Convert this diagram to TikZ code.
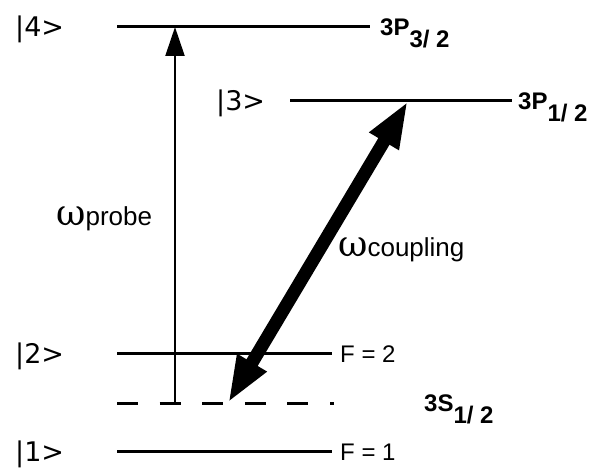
\documentclass[tikz,border=0pt]{standalone}
\usepackage{fontspec}
\setmainfont{Liberation Sans}
\newfontfamily\ketfont{DejaVu Sans}
\newfontfamily\grfont{DejaVu Serif}
\usetikzlibrary{arrows.meta}
\begin{document}
\begin{tikzpicture}[x=1pt,y=-1pt,
  level/.style={line width=3pt},
  dashlevel/.style={line width=3pt,dash pattern=on 21pt off 21.6pt},
  ket/.style={anchor=base west,inner sep=0pt,font=\ketfont\fontsize{27}{27}\selectfont},
  term/.style={anchor=base west,inner sep=0pt,font=\bfseries\fontsize{24}{24}\selectfont},
  flab/.style={anchor=base west,inner sep=0pt,font=\fontsize{24}{24}\selectfont},
  wlab/.style={anchor=base west,inner sep=0pt,font=\fontsize{26}{26}\selectfont},
  probearrow/.style={line width=2.2pt,-{Triangle[length=29pt,width=19pt]}},
  couplarrow/.style={line width=13pt,{Triangle[length=47pt,width=31pt]}-{Triangle[length=47pt,width=31pt]}}
]
\useasboundingbox (0,0) rectangle (606,468);
% level end points
\coordinate (l4a) at (117,27);  \coordinate (l4b) at (370,27);
\coordinate (l3a) at (290,101); \coordinate (l3b) at (512,101);
\coordinate (l2a) at (117,353); \coordinate (l2b) at (332,353);
\coordinate (lda) at (117,403); \coordinate (ldb) at (334,403);
\coordinate (l1a) at (117,451); \coordinate (l1b) at (332,451);
% arrow end points
\coordinate (pb) at (175,403); \coordinate (pt) at (175,27);
\coordinate (cb) at (228,403); \coordinate (ct) at (408,101);
% levels
\draw[level] (l4a) -- (l4b);
\draw[level] (l3a) -- (l3b);
\draw[level] (l2a) -- (l2b);
\draw[dashlevel] (lda) -- (ldb);
\draw[level] (l1a) -- (l1b);
% arrows
\draw[probearrow] (pb) -- (pt);
\draw[couplarrow] (cb) -- (ct);
% ket labels
\node[ket] (k4) at (15,37) {|4>};
\node[ket] (k3) at (216,111) {|3>};
\node[ket] (k2) at (15,363) {|2>};
\node[ket] (k1) at (15,461) {|1>};
% term labels
\node[term] (t4) at (380,36) {3P\raisebox{-12pt}{3/ 2}};
\node[term] (t3) at (518,110) {3P\raisebox{-12pt}{1/ 2}};
\node[term] (t1) at (424,411) {3S\raisebox{-12pt}{1/ 2}};
% F labels
\node[flab] (f2) at (340,362) {F = 2};
\node[flab] (f1) at (340,460) {F = 1};
% frequency labels
\node[wlab] (wp) at (56,226) {{\grfont\fontsize{36}{36}\selectfont ω}probe};
\node[wlab] (wc) at (338,257) {{\grfont\fontsize{36}{36}\selectfont ω}coupling};
\end{tikzpicture}
\end{document}
